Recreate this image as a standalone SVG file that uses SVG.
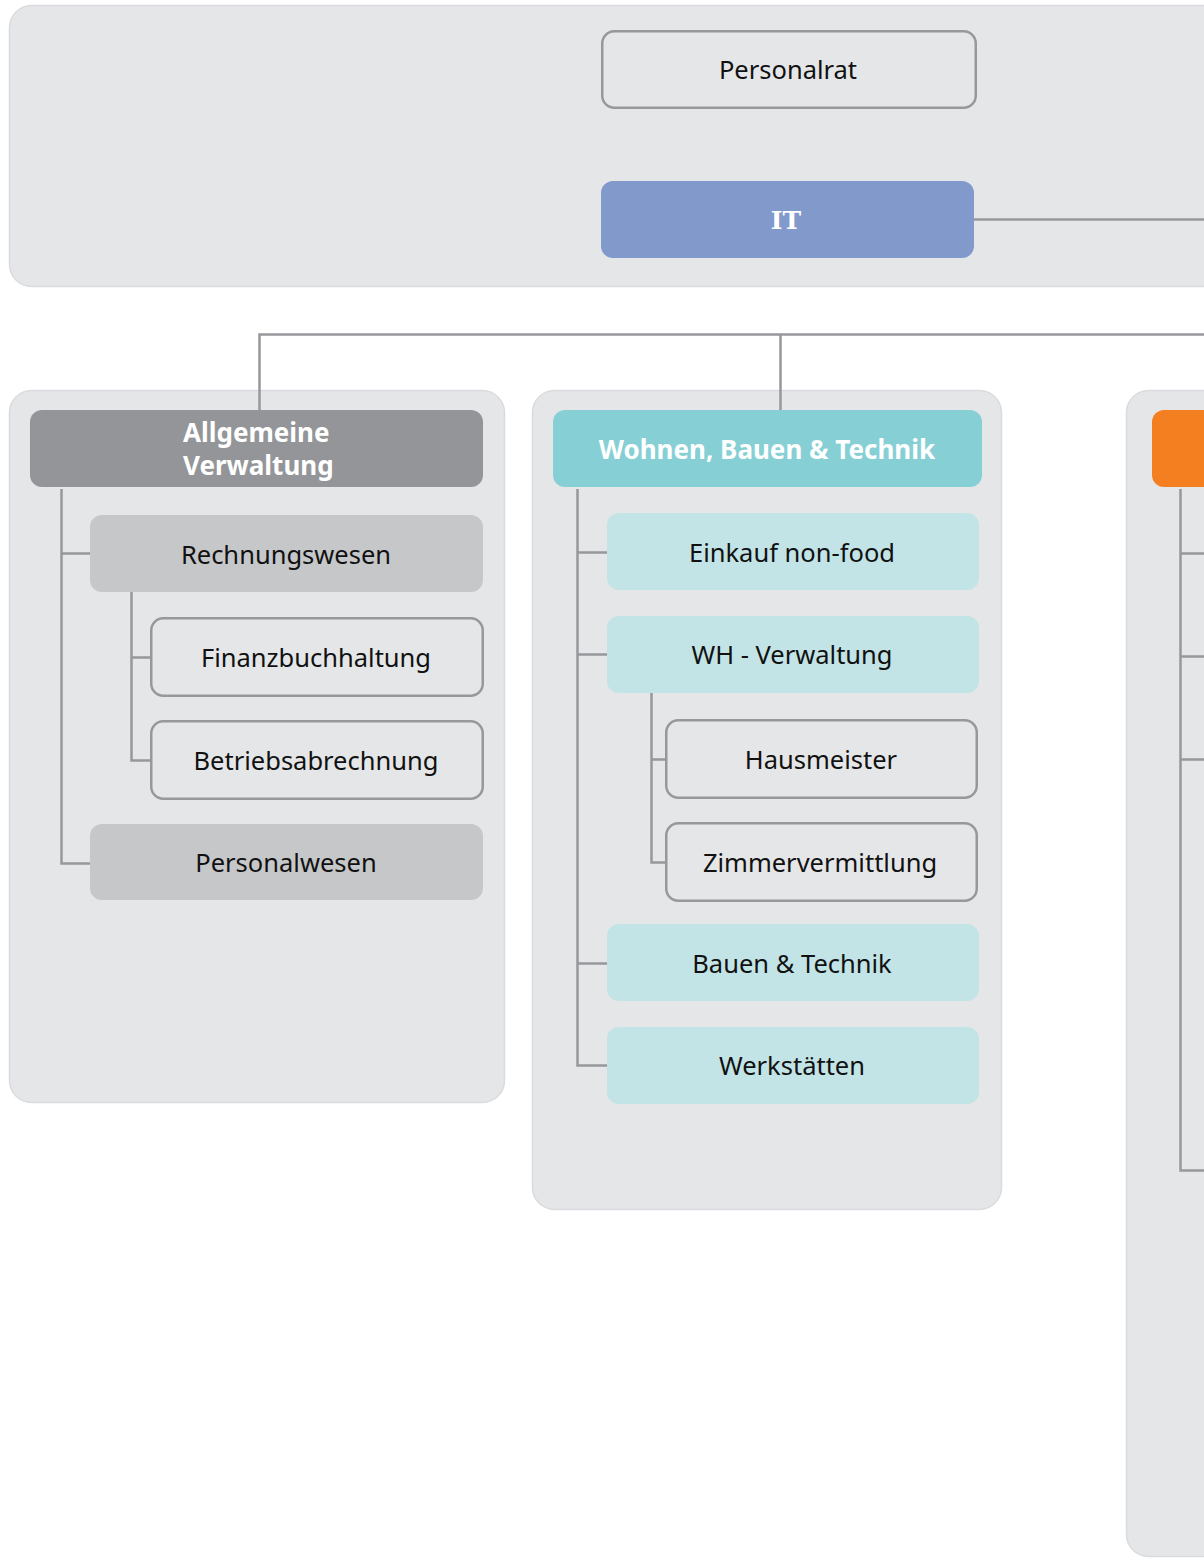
<svg xmlns="http://www.w3.org/2000/svg" width="1204" height="1558" viewBox="0 0 1204 1558">
<style>
.panel{fill:#e5e6e8;stroke:#dadbde;stroke-width:1.5}
.line{fill:none;stroke:#97989b;stroke-width:2.5}
.outline{fill:none;stroke:#97989b;stroke-width:2.5}
.t{font-family:"Noto Sans","Open Sans","Liberation Sans",sans-serif;font-size:25.5px;fill:#111;text-anchor:middle}
.h{font-family:"Noto Sans","Open Sans","Liberation Sans",sans-serif;font-size:26px;font-weight:bold;fill:#fff;text-anchor:middle}
.gray{fill:#c6c7c9}
.teal{fill:#c2e4e6}
</style>
<rect x="0" y="0" width="1204" height="1558" fill="#fff"/>
<g id="panel-top"><rect class="panel" x="9.5" y="5.5" width="1240" height="281" rx="22"/></g>
<g id="panel-left"><rect class="panel" x="9.5" y="390.5" width="495" height="712" rx="22"/></g>
<g id="panel-mid"><rect class="panel" x="532.5" y="390.5" width="469" height="819" rx="22"/></g>
<g id="panel-right"><rect class="panel" x="1126.5" y="390.5" width="140" height="1166" rx="22"/></g>

<g id="connectors">
<path class="line" d="M974 219.5H1204"/>
<path class="line" d="M259.5 410V334.5H1204M780.5 334.5V410"/>
<path class="line" d="M61.5 489V863.5H90M61.5 553.5H90"/>
<path class="line" d="M131.5 592V760.5H151M131.5 657.5H151"/>
<path class="line" d="M577.5 489V1065.5H607M577.5 552.5H607M577.5 654.5H607M577.5 963.5H607"/>
<path class="line" d="M651.5 693V862.5H666M651.5 759.5H666"/>
<path class="line" d="M1180.5 489V1170.5H1204M1180.5 553.5H1204M1180.5 656.5H1204M1180.5 759.5H1204"/>
</g>

<g id="personalrat"><rect class="outline" x="602.25" y="31.25" width="373.5" height="76.5" rx="12"/><text class="t" x="788" y="78.5">Personalrat</text></g>
<g id="it"><rect x="601" y="181" width="373" height="77" rx="12" fill="#8299cc"/><text x="786" y="229" font-family="'DejaVu Serif',serif" font-weight="bold" font-size="25" fill="#fff" text-anchor="middle">IT</text></g>

<g id="allgemeine-verwaltung"><rect x="30" y="410" width="453" height="77" rx="12" fill="#939598"/><text class="h" x="183" y="442" style="text-anchor:start">Allgemeine</text><text class="h" x="183" y="475" style="text-anchor:start">Verwaltung</text></g>
<g id="rechnungswesen"><rect class="gray" x="90" y="515" width="393" height="77" rx="12"/><text class="t" x="286" y="563.5">Rechnungswesen</text></g>
<g id="finanzbuchhaltung"><rect class="outline" x="151.25" y="618.25" width="331.5" height="77.5" rx="12"/><text class="t" x="316" y="666.5">Finanzbuchhaltung</text></g>
<g id="betriebsabrechnung"><rect class="outline" x="151.25" y="721.25" width="331.5" height="77.5" rx="12"/><text class="t" x="316" y="769.5">Betriebsabrechnung</text></g>
<g id="personalwesen"><rect class="gray" x="90" y="824" width="393" height="76" rx="12"/><text class="t" x="286" y="871.5">Personalwesen</text></g>

<g id="wohnen-bauen-technik"><rect x="553" y="410" width="429" height="77" rx="12" fill="#86d0d5"/><text class="h" x="767" y="459">Wohnen, Bauen &amp; Technik</text></g>
<g id="einkauf"><rect class="teal" x="607" y="513" width="372" height="77" rx="12"/><text class="t" x="792" y="561.5">Einkauf non-food</text></g>
<g id="wh-verwaltung"><rect class="teal" x="607" y="616" width="372" height="77" rx="12"/><text class="t" x="792" y="663.5">WH - Verwaltung</text></g>
<g id="hausmeister"><rect class="outline" x="666.25" y="720.25" width="310.5" height="77.5" rx="12"/><text class="t" x="821" y="768.5">Hausmeister</text></g>
<g id="zimmervermittlung"><rect class="outline" x="666.25" y="823.25" width="310.5" height="77.5" rx="12"/><text class="t" x="820" y="871.5">Zimmervermittlung</text></g>
<g id="bauen-technik"><rect class="teal" x="607" y="924" width="372" height="77" rx="12"/><text class="t" x="792" y="972.5">Bauen &amp; Technik</text></g>
<g id="werkstaetten"><rect class="teal" x="607" y="1027" width="372" height="77" rx="12"/><text class="t" x="792" y="1074.5">Werkstätten</text></g>

<g id="orange-header"><rect x="1152" y="410" width="120" height="77" rx="12" fill="#f47f20"/></g>
</svg>
